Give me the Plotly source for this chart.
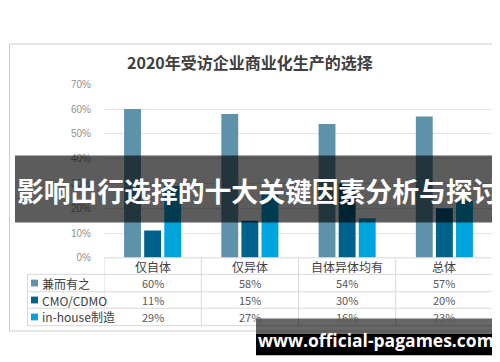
import plotly.graph_objects as go

W, H = 500, 362

categories = ["仅自体", "仅异体", "自体异体均有", "总体"]
series_names = ["兼而有之", "CMO/CDMO", "in-house制造"]
both_vals = [60, 58, 54, 57]
cmo_vals = [11, 15, 30, 20]
inhouse_vals = [29, 27, 16, 23]
series_vals = [both_vals, cmo_vals, inhouse_vals]
colors = ["#5e92aa", "#00618a", "#00a4dc"]
y_ticks = [0, 10, 20, 30, 40, 50, 60, 70]
title = "2020年受访企业商业化生产的选择"
banner = "影响出行选择的十大关键因素分析与探讨"
site = "www.official-pagames.com"

FONT = "Noto Sans CJK SC, Microsoft YaHei, sans-serif"

def px(x):
    return x / W

def py(y):
    return 1 - y / H

fig = go.Figure()
for name, vals, c in zip(series_names, series_vals, colors):
    fig.add_trace(go.Bar(x=categories, y=vals, name=name, marker=dict(color=c, line=dict(width=0)),
                         showlegend=False, hoverinfo="skip"))

# plot area
x0, x1 = 96, 485
yb, yt = 252.5, 73.5
fig.update_layout(
    width=W, height=H, margin=dict(l=0, r=0, t=0, b=0),
    paper_bgcolor="white", plot_bgcolor="white",
    barmode="group", bargap=0.38, bargroupgap=0.16,
    xaxis=dict(domain=[px(x0), px(x1)], type="category", range=[-0.5, 3.5],
               showgrid=False, zeroline=False, showline=False, ticks="", showticklabels=False),
    yaxis=dict(domain=[py(yb), py(yt)], range=[0, 70], tickvals=y_ticks,
               ticktext=[f"{t}%" for t in y_ticks], showgrid=True, gridcolor="#e4e4e4",
               gridwidth=1, zeroline=False, showline=False, ticks="",
               ticklabelstandoff=12,
               tickfont=dict(family="Liberation Sans Narrow, Arial Narrow, sans-serif", size=10, color="#8f8f8f")),
    font=dict(family=FONT),
)

shapes = []
ann = []
LC = "#d9d9d9"
# outer chart border
shapes.append(dict(type="rect", xref="paper", yref="paper", x0=px(1.5), x1=px(489), y0=py(32), y1=py(328),
                   line=dict(color="#cfcfcf", width=1), fillcolor="rgba(0,0,0,0)", layer="below"))

# table
rows_y = [252.5, 269.5, 287.5, 304.5, 322.5]
shapes.append(dict(type="line", xref="paper", yref="paper", x0=px(x0), x1=px(x1), y0=py(252.5), y1=py(252.5),
                   line=dict(color=LC, width=1)))
for y in rows_y[1:]:
    shapes.append(dict(type="line", xref="paper", yref="paper", x0=px(19.5), x1=px(x1), y0=py(y), y1=py(y),
                       line=dict(color=LC, width=1)))
shapes.append(dict(type="line", xref="paper", yref="paper", x0=px(19.5), x1=px(19.5), y0=py(269.5), y1=py(322.5),
                   line=dict(color=LC, width=1)))
for b in [-0.5, 0.5, 1.5, 2.5, 3.5]:
    shapes.append(dict(type="line", xref="x", yref="paper", x0=b, x1=b, y0=py(252.5), y1=py(322.5),
                       line=dict(color=LC, width=1)))

# header row: category names
for cat in categories:
    ann.append(dict(text=cat, xref="x", yref="paper", x=cat, y=py(261), xanchor="center", yanchor="middle",
                    showarrow=False, font=dict(family=FONT, size=12, color="#404040")))

row_centers = [278.5, 296, 313.5]
for ri, (name, vals, c) in enumerate(zip(series_names, series_vals, colors)):
    yc = row_centers[ri]
    shapes.append(dict(type="rect", xref="paper", yref="paper", x0=px(23), x1=px(30), y0=py(yc + 3.5), y1=py(yc - 3.5),
                       fillcolor=c, line=dict(width=0)))
    ann.append(dict(text=name, xref="paper", yref="paper", x=px(32), y=py(yc), xanchor="left", yanchor="middle",
                    showarrow=False, font=dict(family=FONT, size=12, color="#404040")))
    for cat, v in zip(categories, vals):
        ann.append(dict(text=f"{v}%", xref="x", yref="paper", x=cat, y=py(yc), xanchor="center", yanchor="middle",
                        showarrow=False, font=dict(family=FONT, size=11, color="#595959")))

# title
ann.append(dict(text=f"<b>{title}</b>", xref="paper", yref="paper", x=px(242), y=py(51), xanchor="center",
                yanchor="middle", showarrow=False, font=dict(family=FONT, size=16, color="#404040")))

# banner overlay
shapes.append(dict(type="rect", xref="paper", yref="paper", x0=px(7), x1=px(494), y0=py(216), y1=py(147),
                   fillcolor="rgba(0,0,0,0.64)", line=dict(width=0), layer="above"))
ann.append(dict(text=f"<b>{banner}</b>", xref="paper", yref="paper", x=px(249.5), y=py(183), xanchor="center",
                yanchor="middle", showarrow=False, font=dict(family=FONT, size=26.8, color="white")))

# site watermark
shapes.append(dict(type="rect", xref="paper", yref="paper", x0=px(248), x1=px(491), y0=py(331), y1=py(315),
                   fillcolor="rgba(0,0,0,0.6)", line=dict(width=0), layer="above"))
shapes.append(dict(type="rect", xref="paper", yref="paper", x0=px(248), x1=px(491), y0=py(353), y1=py(331),
                   fillcolor="black", line=dict(width=0), layer="above"))
ann.append(dict(text=f"<b>{site}</b>", xref="paper", yref="paper", x=px(368), y=py(337), xanchor="center",
                yanchor="middle", showarrow=False, font=dict(family="Open Sans, DejaVu Sans, sans-serif", size=17.5, color="white")))

fig.update_layout(shapes=shapes, annotations=ann)
fig.write_html("out.html")
